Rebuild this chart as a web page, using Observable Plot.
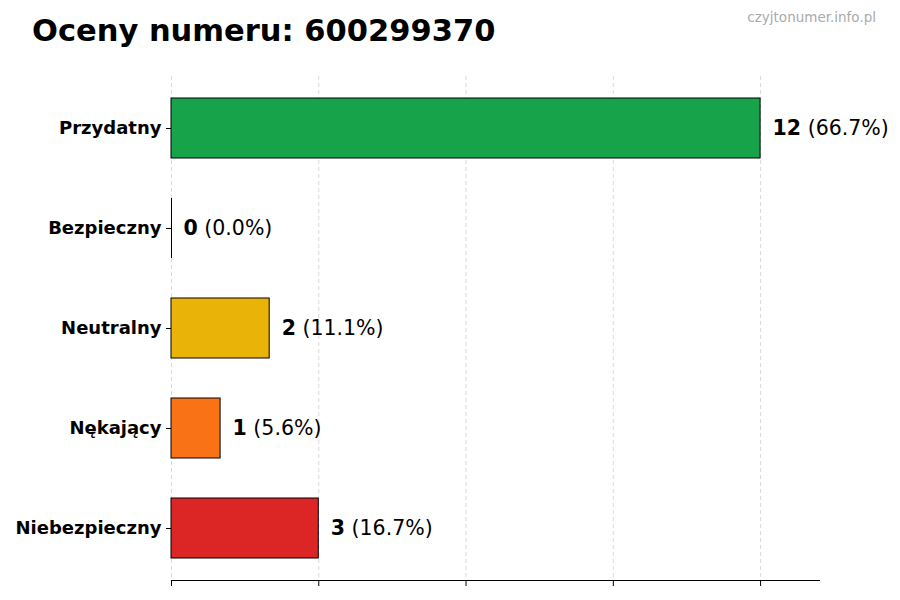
<!DOCTYPE html>
<html>
<head>
<meta charset="utf-8">
<script src="https://cdn.jsdelivr.net/npm/d3@7"></script>
<script src="https://cdn.jsdelivr.net/npm/@observablehq/plot@0.6"></script>
<style>
  body { margin: 0; background: #fff; }
  #wrap { position: relative; width: 900px; height: 600px; font-family: "DejaVu Sans", sans-serif; }
  #title { position: absolute; left: 32px; top: 16px; font-size: 30.5px; font-weight: bold; line-height: 1; color: #000; white-space: nowrap; }
  #wm { position: absolute; right: 24px; top: 11px; font-size: 13.5px; line-height: 1; color: #aaa; white-space: nowrap; }
</style>
</head>
<body>
<div id="wrap">
  <div id="chart"></div>
  <div id="title">Oceny numeru: 600299370</div>
  <div id="wm">czyjtonumer.info.pl</div>
</div>
<script>
const categories = ["Przydatny", "Bezpieczny", "Neutralny", "Nękający", "Niebezpieczny"];
const counts = [12, 0, 2, 1, 3];
const colors = ["#16a34a", "#6b7280", "#eab308", "#f97316", "#dc2626"];
const xTicks = [0, 3, 6, 9, 12];

const total = d3.sum(counts);
const data = categories.map((c, i) => ({
  cat: c,
  value: counts[i],
  color: colors[i],
  pct: (counts[i] / total * 100).toFixed(1)
}));
const xMax = d3.max(counts) * 1.1;

const chart = Plot.plot({
  width: 900,
  height: 600,
  marginLeft: 171,
  marginRight: 81,
  marginTop: 76,
  marginBottom: 20,
  style: { fontFamily: "DejaVu Sans", background: "#fff", color: "#000" },
  x: { domain: [0, xMax], axis: null },
  y: { domain: categories, paddingInner: 0.4, paddingOuter: 0.22, axis: null },
  marks: [
    Plot.gridX(xTicks, { stroke: "#d0d0d0", strokeOpacity: 1, strokeDasharray: "4,3", strokeWidth: 0.8 }),
    Plot.barX(data, { x: "value", y: "cat", fill: "color", stroke: "#000", strokeWidth: 1 }),
    Plot.tickX(data.filter(d => d.value === 0), { x: "value", y: "cat", stroke: "#000", strokeWidth: 1 }),
    Plot.axisY({ tickSize: 5, tickPadding: 5, fontSize: 18, fontWeight: "bold", label: null, stroke: "#000" }),
    Plot.axisX(xTicks, { tickSize: 6, tickFormat: () => "", label: null, stroke: "#000" }),
    Plot.frame({ anchor: "bottom", stroke: "#000", strokeWidth: 1.2 }),
    Plot.text(data, {
      x: "value", y: "cat",
      text: d => `${d.value} (${d.pct}%)`,
      dx: 12, textAnchor: "start", fontSize: 20.5, fill: "#000",
      className: "vlabel"
    })
  ]
});
document.getElementById("chart").appendChild(chart);

// split value labels into bold count + regular percent
d3.select(chart).selectAll(".vlabel text").each(function() {
  const el = d3.select(this);
  const t = this.textContent;
  const i = t.indexOf(" ");
  el.text(null);
  el.append("tspan").attr("font-weight", "bold").text(t.slice(0, i));
  el.append("tspan").text(t.slice(i));
});
</script>
</body>
</html>
